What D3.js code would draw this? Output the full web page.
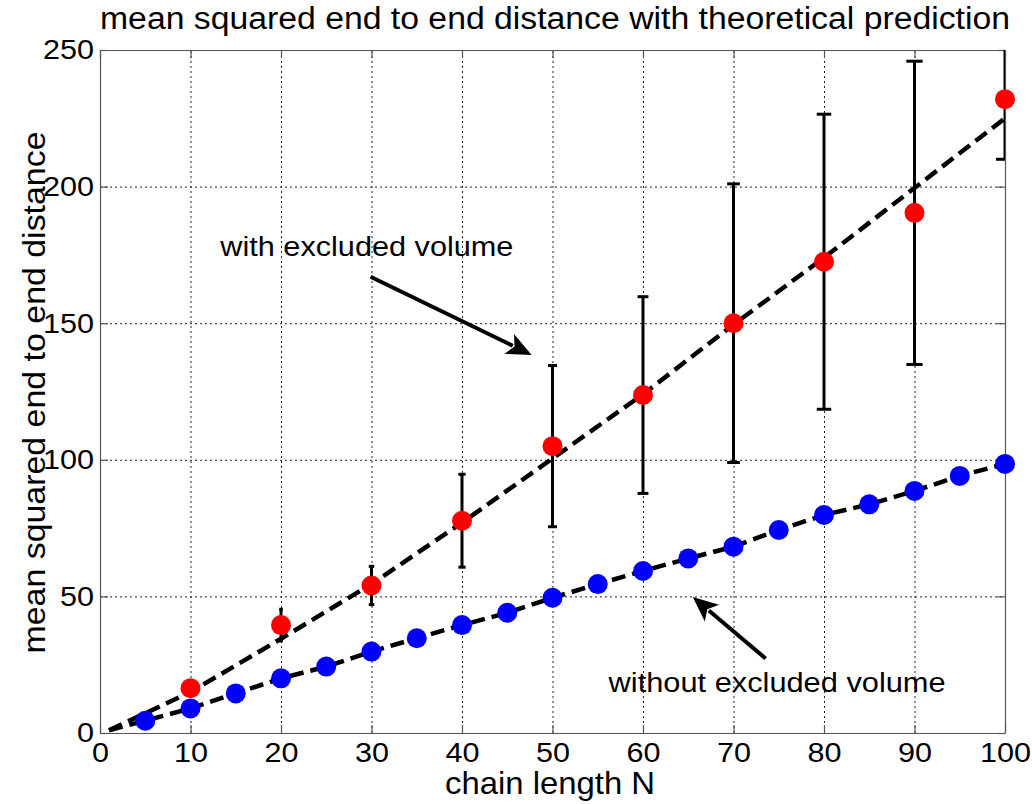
<!DOCTYPE html>
<html>
<head>
<meta charset="utf-8">
<script src="https://cdn.jsdelivr.net/npm/d3@7"></script>
<style>
body { margin: 0; background: #fff; }
text { font-family: "Liberation Sans", Arial, sans-serif; fill: #000; }
</style>
</head>
<body>
<script>
const WIDTH = 1032;
const HEIGHT = 804;
const LEFT = 100, RIGHT = 1005, TOP = 50, BOTTOM = 733;

// axis ticks
var xTicks = [0, 10, 20, 30, 40, 50, 60, 70, 80, 90, 100];
var yTicks = [0, 50, 100, 150, 200, 250];

// with excluded volume (red, with error bars)
var exclN    = [10, 20, 30, 40, 50, 60, 70, 80, 90, 100];
var exclMean = [16.4, 39.5, 54, 77.7, 105, 123.7, 150, 172.5, 190.4, 232];
var exclErr  = [2, 5.8, 7, 17, 29.5, 36, 51, 54, 55.5, 22];

// without excluded volume (blue)
var idealN    = [5, 10, 15, 20, 25, 30, 35, 40, 45, 50, 55, 60, 65, 70, 75, 80, 85, 90, 95, 100];
var idealMean = [4.5, 9, 14.5, 20, 24.3, 29.8, 34.7, 39.5, 44, 49.5, 54.5, 59.3, 63.9, 68.2, 74.3, 79.8, 83.7, 88.6, 94.1, 98.5];

// theoretical prediction curves (dashed)
var exclFitN = [1, 10, 20, 30, 40, 50, 60, 70, 80, 90, 100];
var exclFit  = [1, 15, 34.5, 54.5, 77, 100.5, 124, 149.5, 174, 199.5, 225];
var idealFitN = [1, 5, 10, 15, 20, 25, 30, 35, 40, 45, 50, 55, 60, 65, 70, 75, 80, 85, 90, 95, 100];
var idealFit  = [1, 4.5, 9, 14.5, 20, 24.3, 29.8, 34.7, 39.5, 44, 49.5, 54.5, 59.3, 63.9, 68.2, 74.3, 79.8, 83.7, 88.6, 94.1, 98.5];

var svg = d3.select('body').append('svg')
    .attr('width', WIDTH)
    .attr('height', HEIGHT);

var xScale = d3.scaleLinear().domain([0, 100]).range([LEFT, RIGHT]);
var yScale = d3.scaleLinear().domain([0, 250]).range([BOTTOM, TOP]);

svg.append('clipPath').attr('id', 'plotclip')
    .append('rect')
    .attr('x', LEFT).attr('y', TOP)
    .attr('width', RIGHT - LEFT).attr('height', BOTTOM - TOP);

// dotted grid
var gridX = d3.axisBottom(xScale)
    .tickValues(xTicks.slice(1, -1))
    .tickSize(-(BOTTOM - TOP))
    .tickFormat('');
var gridY = d3.axisLeft(yScale)
    .tickValues(yTicks.slice(1, -1))
    .tickSize(-(RIGHT - LEFT))
    .tickFormat('');
svg.append('g').attr('transform', 'translate(0,' + BOTTOM + ')').call(gridX);
svg.append('g').attr('transform', 'translate(' + LEFT + ',0)').call(gridY);
svg.selectAll('.domain').remove();
svg.selectAll('.tick line')
    .attr('stroke', '#222')
    .attr('stroke-width', 1)
    .attr('stroke-dasharray', '2,3');

// axes box with inward ticks
var axisColor = '#555';
function styleAxis(g) {
    g.select('.domain').attr('stroke', axisColor).attr('stroke-width', 1.2);
    g.selectAll('.tick line').attr('stroke', axisColor).attr('stroke-width', 1.2);
    g.selectAll('.tick text')
        .attr('font-size', 28)
        .attr('fill', '#000')
        .attr('textLength', function (d) { return String(d).length * 17; })
        .attr('lengthAdjust', 'spacingAndGlyphs');
}
svg.append('g')
    .attr('transform', 'translate(0,' + BOTTOM + ')')
    .call(d3.axisBottom(xScale).tickValues(xTicks).tickSize(-8).tickSizeOuter(0).tickPadding(9))
    .call(styleAxis);
svg.append('g')
    .attr('transform', 'translate(' + LEFT + ',0)')
    .call(d3.axisLeft(yScale).tickValues(yTicks).tickSize(-8).tickSizeOuter(0).tickPadding(6))
    .call(styleAxis);
svg.append('g')
    .attr('transform', 'translate(0,' + TOP + ')')
    .call(d3.axisTop(xScale).tickValues(xTicks).tickSize(-8).tickSizeOuter(0).tickFormat(''))
    .call(styleAxis);
svg.append('g')
    .attr('transform', 'translate(' + RIGHT + ',0)')
    .call(d3.axisRight(yScale).tickValues(yTicks).tickSize(-8).tickSizeOuter(0).tickFormat(''))
    .call(styleAxis);
svg.selectAll('g.tick text').attr('font-family', '"Liberation Sans", Arial, sans-serif');

// error bars
var plot = svg.append('g').attr('clip-path', 'url(#plotclip)');
var bars = plot.selectAll('g.ebar')
    .data(exclN.map(function (n, i) { return {n: n, m: exclMean[i], e: exclErr[i]}; }))
    .enter().append('g').attr('class', 'ebar')
    .attr('stroke', '#000').attr('stroke-width', 3);
bars.append('line')
    .attr('x1', function (d) { return xScale(d.n); })
    .attr('x2', function (d) { return xScale(d.n); })
    .attr('y1', function (d) { return yScale(d.m - d.e); })
    .attr('y2', function (d) { return yScale(d.m + d.e); });
[-1, 1].forEach(function (s) {
    bars.append('line')
        .attr('x1', function (d) { return xScale(d.n - d.n / 100); })
        .attr('x2', function (d) { return xScale(d.n + d.n / 100); })
        .attr('y1', function (d) { return yScale(d.m + s * d.e); })
        .attr('y2', function (d) { return yScale(d.m + s * d.e); });
});

// dashed theory lines
var line = d3.line()
    .x(function (d) { return xScale(d[0]); })
    .y(function (d) { return yScale(d[1]); });
[[exclFitN, exclFit], [idealFitN, idealFit]].forEach(function (s) {
    plot.append('path')
        .attr('d', line(s[0].map(function (n, i) { return [n, s[1][i]]; })))
        .attr('fill', 'none')
        .attr('stroke', '#000')
        .attr('stroke-width', 4.5)
        .attr('stroke-dasharray', '14,7');
});

// markers
svg.append('g').selectAll('circle')
    .data(idealN.map(function (n, i) { return [n, idealMean[i]]; }))
    .enter().append('circle')
    .attr('cx', function (d) { return xScale(d[0]); })
    .attr('cy', function (d) { return yScale(d[1]); })
    .attr('r', 10)
    .attr('fill', '#0000ff');
svg.append('g').selectAll('circle')
    .data(exclN.map(function (n, i) { return [n, exclMean[i]]; }))
    .enter().append('circle')
    .attr('cx', function (d) { return xScale(d[0]); })
    .attr('cy', function (d) { return yScale(d[1]); })
    .attr('r', 10)
    .attr('fill', '#ff0000');

// annotations with arrows
function arrow(x0, y0, x1, y1) {
    var ax = xScale(x0), ay = yScale(y0), bx = xScale(x1), by = yScale(y1);
    var dx = bx - ax, dy = by - ay, len = Math.sqrt(dx * dx + dy * dy);
    var ux = dx / len, uy = dy / len;
    var hl = 25, hw = 11;
    var cx = bx - ux * hl, cy = by - uy * hl;
    svg.append('line')
        .attr('x1', ax).attr('y1', ay)
        .attr('x2', cx + ux * 4).attr('y2', cy + uy * 4)
        .attr('stroke', '#000').attr('stroke-width', 4);
    svg.append('path')
        .attr('d', 'M' + bx + ',' + by +
            'L' + (cx - uy * hw) + ',' + (cy + ux * hw) +
            'L' + (cx + ux * 6) + ',' + (cy + uy * 6) +
            'L' + (cx + uy * hw) + ',' + (cy - ux * hw) + 'Z')
        .attr('fill', '#000');
}
arrow(29.9, 167, 47.7, 138.4);
arrow(73.55, 27.3, 65.5, 49.8);

svg.append('text')
    .attr('x', xScale(13.3)).attr('y', yScale(174.6))
    .attr('font-size', 27)
    .attr('textLength', 293).attr('lengthAdjust', 'spacingAndGlyphs')
    .text('with excluded volume');
svg.append('text')
    .attr('x', xScale(56.2)).attr('y', yScale(15.1))
    .attr('font-size', 27)
    .attr('textLength', 337).attr('lengthAdjust', 'spacingAndGlyphs')
    .text('without excluded volume');

// titles
svg.append('text')
    .attr('x', LEFT).attr('y', 29)
    .attr('font-size', 31)
    .attr('textLength', 910).attr('lengthAdjust', 'spacingAndGlyphs')
    .text('mean squared end to end distance with theoretical prediction');
svg.append('text')
    .attr('x', 445).attr('y', 794)
    .attr('font-size', 32)
    .attr('textLength', 210).attr('lengthAdjust', 'spacingAndGlyphs')
    .text('chain length N');
svg.append('text')
    .attr('transform', 'translate(45,' + ((TOP + BOTTOM) / 2 + 262) + ') rotate(-90)')
    .attr('font-size', 32)
    .attr('textLength', 522).attr('lengthAdjust', 'spacingAndGlyphs')
    .text('mean squared end to end distance');
</script>
</body>
</html>
